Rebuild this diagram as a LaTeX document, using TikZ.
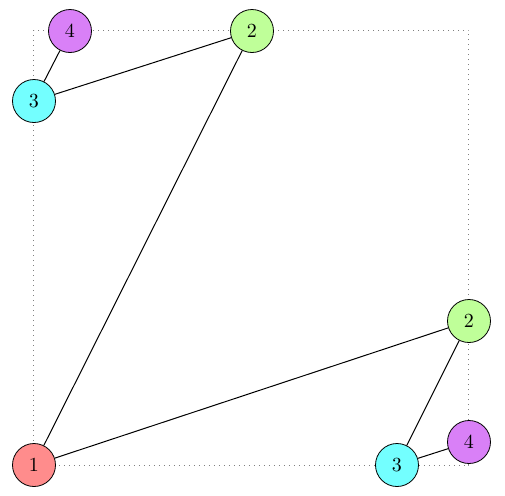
\documentclass[tikz,border=0pt]{standalone}
\definecolor{cone}{RGB}{255,140,140}
\definecolor{ctwo}{RGB}{191,255,153}
\definecolor{cthree}{RGB}{115,255,255}
\definecolor{cfour}{RGB}{217,128,247}
\tikzset{
  vtx/.style={circle,draw=black,minimum size=21.5pt,inner sep=0pt},
  frame/.style={dotted,gray,line width=0.5pt},
  edge/.style={black,line width=0.5pt}
}
\begin{document}
\begin{tikzpicture}[x=0.5pt,y=-0.5pt]
\useasboundingbox (0,0) rectangle (505,495);
\draw[frame] (34,30) rectangle (469,465);
\node[vtx,fill=cone] (n1) at (34,465) {1};
\node[vtx,fill=ctwo] (a2) at (252,31) {2};
\node[vtx,fill=cthree] (a3) at (34,101) {3};
\node[vtx,fill=cfour] (a4) at (70,31) {4};
\node[vtx,fill=ctwo] (b2) at (469,321) {2};
\node[vtx,fill=cfour] (b4) at (469,442) {4};
\node[vtx,fill=cthree] (b3) at (397,465) {3};
\draw[edge] (a4) -- (a3);
\draw[edge] (a3) -- (a2);
\draw[edge] (a2) -- (n1);
\draw[edge] (n1) -- (b2);
\draw[edge] (b2) -- (b3);
\draw[edge] (b3) -- (b4);
\end{tikzpicture}
\end{document}
